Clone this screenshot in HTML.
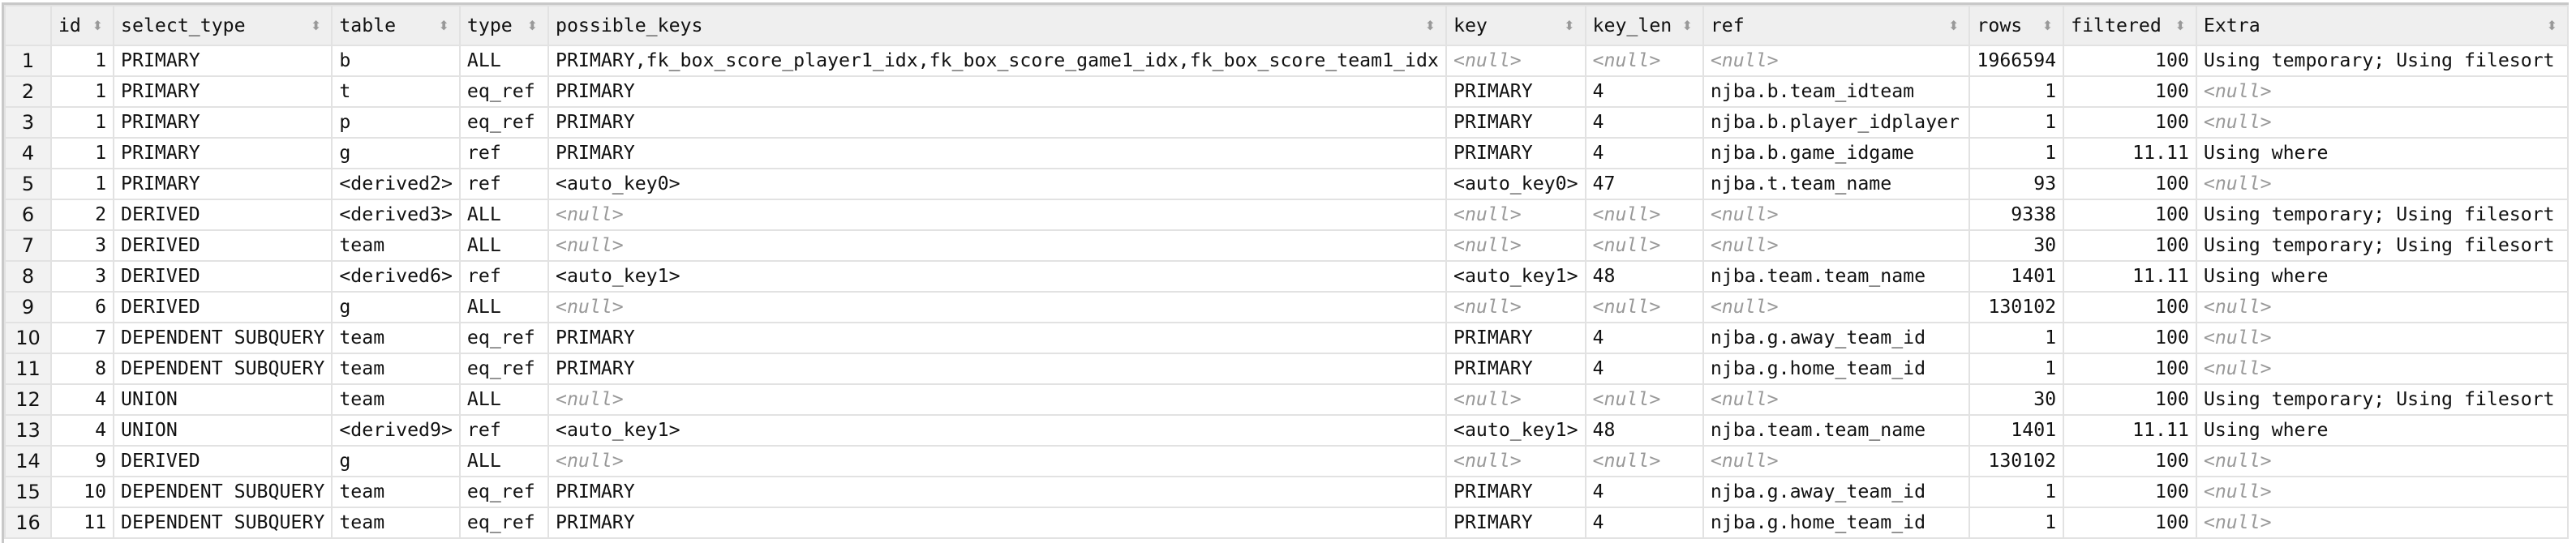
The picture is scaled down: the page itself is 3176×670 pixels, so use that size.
<!DOCTYPE html>
<html><head><meta charset="utf-8"><style>
html,body{margin:0;padding:0;background:#fff;width:3176px;height:670px;overflow:hidden}
.wrap{position:absolute;left:2px;top:3px;width:3162px;border-top:3px solid #c8c8c8;border-left:3px solid #c8c8c8;height:664px}
table{border-collapse:collapse;table-layout:fixed;font-family:"DejaVu Sans Mono","Liberation Mono",monospace;font-size:23.2px;color:#111}
td,th{border:2px solid #e2e2e2;padding:0 8px;white-space:nowrap;overflow:hidden;height:36px;line-height:36px}
th{background:#efefef;font-weight:normal;text-align:left;height:47px;line-height:47px;position:relative}
th .s{position:absolute;right:12px;top:0;color:#999;font-size:16px;line-height:47px;font-family:"DejaVu Sans",sans-serif}
td.n{background:#f2f2f2;text-align:center;font-family:"DejaVu Sans",sans-serif;font-size:24px;padding:0}
td.r{text-align:right}
i{color:#999}
th.rn{background:#efefef}
</style></head><body><div class="wrap"><table>
<colgroup><col style="width:60px"><col style="width:81px"><col style="width:265px"><col style="width:154px"><col style="width:110px"><col style="width:1107px"><col style="width:169px"><col style="width:149px"><col style="width:329px"><col style="width:111px"><col style="width:168px"><col style="width:459px"></colgroup>
<tr><th class="rn"></th><th>id<span class="s">⬍</span></th><th>select_type<span class="s">⬍</span></th><th>table<span class="s">⬍</span></th><th>type<span class="s">⬍</span></th><th>possible_keys<span class="s">⬍</span></th><th>key<span class="s">⬍</span></th><th>key_len<span class="s">⬍</span></th><th>ref<span class="s">⬍</span></th><th>rows<span class="s">⬍</span></th><th>filtered<span class="s">⬍</span></th><th>Extra<span class="s">⬍</span></th></tr>
<tr><td class="n">1</td><td class="r">1</td><td>PRIMARY</td><td>b</td><td>ALL</td><td>PRIMARY,fk_box_score_player1_idx,fk_box_score_game1_idx,fk_box_score_team1_idx</td><td><i>&lt;null&gt;</i></td><td><i>&lt;null&gt;</i></td><td><i>&lt;null&gt;</i></td><td class="r">1966594</td><td class="r">100</td><td>Using temporary; Using filesort</td></tr>
<tr><td class="n">2</td><td class="r">1</td><td>PRIMARY</td><td>t</td><td>eq_ref</td><td>PRIMARY</td><td>PRIMARY</td><td>4</td><td>njba.b.team_idteam</td><td class="r">1</td><td class="r">100</td><td><i>&lt;null&gt;</i></td></tr>
<tr><td class="n">3</td><td class="r">1</td><td>PRIMARY</td><td>p</td><td>eq_ref</td><td>PRIMARY</td><td>PRIMARY</td><td>4</td><td>njba.b.player_idplayer</td><td class="r">1</td><td class="r">100</td><td><i>&lt;null&gt;</i></td></tr>
<tr><td class="n">4</td><td class="r">1</td><td>PRIMARY</td><td>g</td><td>ref</td><td>PRIMARY</td><td>PRIMARY</td><td>4</td><td>njba.b.game_idgame</td><td class="r">1</td><td class="r">11.11</td><td>Using where</td></tr>
<tr><td class="n">5</td><td class="r">1</td><td>PRIMARY</td><td>&lt;derived2&gt;</td><td>ref</td><td>&lt;auto_key0&gt;</td><td>&lt;auto_key0&gt;</td><td>47</td><td>njba.t.team_name</td><td class="r">93</td><td class="r">100</td><td><i>&lt;null&gt;</i></td></tr>
<tr><td class="n">6</td><td class="r">2</td><td>DERIVED</td><td>&lt;derived3&gt;</td><td>ALL</td><td><i>&lt;null&gt;</i></td><td><i>&lt;null&gt;</i></td><td><i>&lt;null&gt;</i></td><td><i>&lt;null&gt;</i></td><td class="r">9338</td><td class="r">100</td><td>Using temporary; Using filesort</td></tr>
<tr><td class="n">7</td><td class="r">3</td><td>DERIVED</td><td>team</td><td>ALL</td><td><i>&lt;null&gt;</i></td><td><i>&lt;null&gt;</i></td><td><i>&lt;null&gt;</i></td><td><i>&lt;null&gt;</i></td><td class="r">30</td><td class="r">100</td><td>Using temporary; Using filesort</td></tr>
<tr><td class="n">8</td><td class="r">3</td><td>DERIVED</td><td>&lt;derived6&gt;</td><td>ref</td><td>&lt;auto_key1&gt;</td><td>&lt;auto_key1&gt;</td><td>48</td><td>njba.team.team_name</td><td class="r">1401</td><td class="r">11.11</td><td>Using where</td></tr>
<tr><td class="n">9</td><td class="r">6</td><td>DERIVED</td><td>g</td><td>ALL</td><td><i>&lt;null&gt;</i></td><td><i>&lt;null&gt;</i></td><td><i>&lt;null&gt;</i></td><td><i>&lt;null&gt;</i></td><td class="r">130102</td><td class="r">100</td><td><i>&lt;null&gt;</i></td></tr>
<tr><td class="n">10</td><td class="r">7</td><td>DEPENDENT SUBQUERY</td><td>team</td><td>eq_ref</td><td>PRIMARY</td><td>PRIMARY</td><td>4</td><td>njba.g.away_team_id</td><td class="r">1</td><td class="r">100</td><td><i>&lt;null&gt;</i></td></tr>
<tr><td class="n">11</td><td class="r">8</td><td>DEPENDENT SUBQUERY</td><td>team</td><td>eq_ref</td><td>PRIMARY</td><td>PRIMARY</td><td>4</td><td>njba.g.home_team_id</td><td class="r">1</td><td class="r">100</td><td><i>&lt;null&gt;</i></td></tr>
<tr><td class="n">12</td><td class="r">4</td><td>UNION</td><td>team</td><td>ALL</td><td><i>&lt;null&gt;</i></td><td><i>&lt;null&gt;</i></td><td><i>&lt;null&gt;</i></td><td><i>&lt;null&gt;</i></td><td class="r">30</td><td class="r">100</td><td>Using temporary; Using filesort</td></tr>
<tr><td class="n">13</td><td class="r">4</td><td>UNION</td><td>&lt;derived9&gt;</td><td>ref</td><td>&lt;auto_key1&gt;</td><td>&lt;auto_key1&gt;</td><td>48</td><td>njba.team.team_name</td><td class="r">1401</td><td class="r">11.11</td><td>Using where</td></tr>
<tr><td class="n">14</td><td class="r">9</td><td>DERIVED</td><td>g</td><td>ALL</td><td><i>&lt;null&gt;</i></td><td><i>&lt;null&gt;</i></td><td><i>&lt;null&gt;</i></td><td><i>&lt;null&gt;</i></td><td class="r">130102</td><td class="r">100</td><td><i>&lt;null&gt;</i></td></tr>
<tr><td class="n">15</td><td class="r">10</td><td>DEPENDENT SUBQUERY</td><td>team</td><td>eq_ref</td><td>PRIMARY</td><td>PRIMARY</td><td>4</td><td>njba.g.away_team_id</td><td class="r">1</td><td class="r">100</td><td><i>&lt;null&gt;</i></td></tr>
<tr><td class="n">16</td><td class="r">11</td><td>DEPENDENT SUBQUERY</td><td>team</td><td>eq_ref</td><td>PRIMARY</td><td>PRIMARY</td><td>4</td><td>njba.g.home_team_id</td><td class="r">1</td><td class="r">100</td><td><i>&lt;null&gt;</i></td></tr>
</table></div></body></html>
